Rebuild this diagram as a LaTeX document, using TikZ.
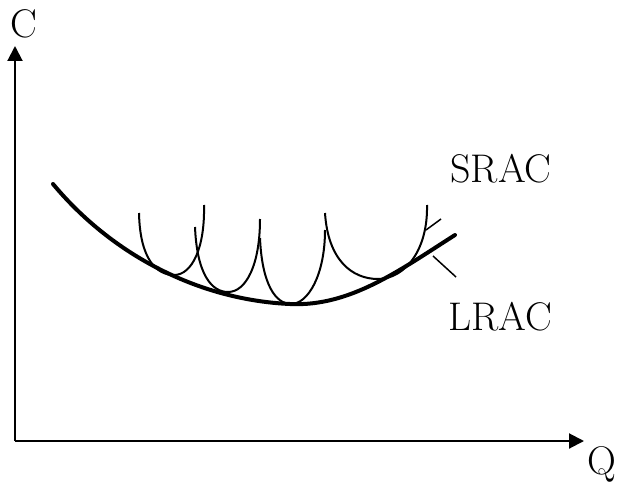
\documentclass[tikz,border=0pt]{standalone}
\usetikzlibrary{arrows.meta}
\begin{document}
\begin{tikzpicture}[x=1pt,y=-1pt,
  axis/.style={line width=2pt,-{Triangle[length=15pt,width=15pt]}},
  lrac/.style={line width=4pt,line cap=round},
  srac/.style={line width=2pt},
  pointer/.style={line width=1.5pt},
  lbl/.style={inner sep=0pt,font=\fontsize{40}{48}\selectfont}]
\useasboundingbox (0,0) rectangle (617,489);
\coordinate (O) at (15,441);
\coordinate (Ytop) at (15,46);
\coordinate (Xend) at (584,441);
\draw[axis] (O) -- (Ytop);
\draw[axis] (O) -- (Xend);
\node[lbl] (C) at (24,24) {C};
\node[lbl] (Q) at (602,464) {Q};
\node[lbl] (S) at (501,169) {SRAC};
\node[lbl] (L) at (500,317) {LRAC};
% LRAC
\draw[lrac] (53,184) .. controls (113,256) and (200,300) .. (290,304) .. controls (350,307) and (400,270) .. (455,235);
% SRAC curves
\draw[srac] (139,213) .. controls (140,260) and (157,275) .. (174,275) .. controls (192,275) and (205,248) .. (204,205);
\draw[srac] (195,227) .. controls (197,275) and (212,292) .. (228,292) .. controls (246,292) and (260,265) .. (260,219);
\draw[srac] (260,238) .. controls (262,285) and (276,304) .. (291,304) .. controls (308,304) and (325,275) .. (325,230);
\draw[srac] (325,213) .. controls (328,260) and (352,279) .. (378,279) .. controls (405,279) and (428,250) .. (427,205);
% pointers
\coordinate (p1a) at (426,230);
\coordinate (p1b) at (441,219);
\coordinate (p2a) at (433,256);
\coordinate (p2b) at (456,277);
\draw[pointer] (p1a) -- (p1b);
\draw[pointer] (p2a) -- (p2b);
\end{tikzpicture}
\end{document}
